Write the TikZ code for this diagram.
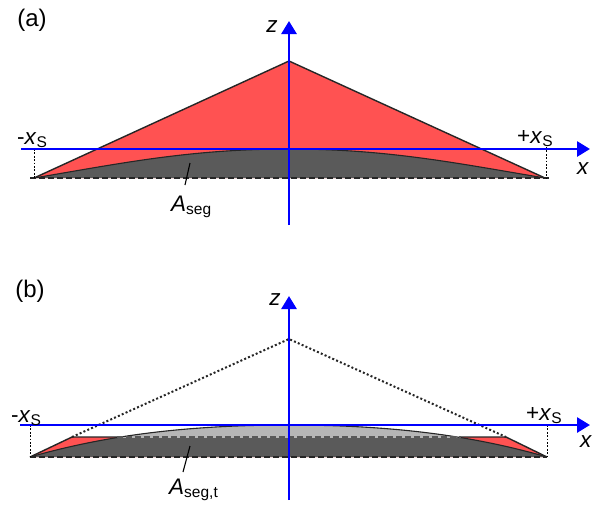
\documentclass[tikz,border=0pt]{standalone}
\usepackage{fontspec}
\setmainfont{Liberation Sans}
\usetikzlibrary{arrows.meta, positioning, calc}
\definecolor{segred}{RGB}{255,82,82}
\definecolor{seggray}{RGB}{90,90,90}
\definecolor{seglight}{RGB}{182,182,182}
\definecolor{axblue}{RGB}{0,0,255}
\newcommand{\lsub}[1]{\raisebox{-3.5pt}{\fontsize{15.5}{15.5}\selectfont #1}}
\tikzset{
  ax/.style={draw=axblue, line width=2.8pt, -{Triangle[length=13pt,width=15pt]}},
  outl/.style={draw=black!85, line width=1.4pt, line join=round},
  rim/.style={draw=black!85, line width=1.1pt},
  baseln/.style={draw=black!85, line width=1.6pt, dash pattern=on 6pt off 3pt},
  trunc/.style={draw=black!65, line width=1.3pt, dash pattern=on 6pt off 3pt},
  drop/.style={draw=black, line width=1pt, dash pattern=on 1.8pt off 1.6pt},
  dotln/.style={draw=black!85, line width=2pt, dash pattern=on 2pt off 2.2pt},
  leader/.style={draw=black, line width=1.1pt},
  lbl/.style={font=\fontsize{22.5}{26}\selectfont, inner sep=0pt},
  tag/.style={font=\fontsize{24}{28}\selectfont, inner sep=0pt},
}
\begin{document}
\begin{tikzpicture}[x=1pt, y=-1pt]
  \useasboundingbox (0,0) rectangle (601,507);

  % (a)
  \coordinate (aO)   at (289,149);
  \coordinate (aL)   at (34,178);
  \coordinate (aR)   at (545,178);
  \coordinate (aTop) at (289,61);

  \fill[segred] (aL) -- (aTop) -- (aR) -- cycle;
  \fill[seggray] (aL) .. controls (120,163.5) and (190,149) .. (aO)
                      .. controls (388,149) and (458,163.5) .. (aR) -- cycle;
  \draw[rim] (aL) .. controls (120,163.5) and (190,149) .. (aO)
                  .. controls (388,149) and (458,163.5) .. (aR);
  \draw[outl] (aL) -- (aTop) -- (aR);
  \draw[baseln] (30,178) -- (550,178);
  \draw[drop] (34,149) -- (aL);
  \draw[drop] (546,147) -- (546,178);

  \draw[ax] (289,225) -- (289,21);
  \draw[ax] (21,149) -- (590,149);

  \node[tag] (tagA) at (32,20) {(a)};
  \node[lbl] (zA) at (272,27) {\textit{z}};
  \node[lbl] (xA) at (583,169) {\textit{x}};
  \node[lbl, anchor=base west] (mxA) at (17,144) {-\textit{x}\lsub{S}};
  \node[lbl, anchor=base west] (pxA) at (517,143) {+\textit{x}\lsub{S}};
  \node[lbl, anchor=base west] (segA) at (171,211) {\textit{A}\lsub{seg}};
  \coordinate (pA) at (190,163);
  \coordinate (qA) at (185,185);
  \draw[leader] (pA) -- (qA);

  % (b)
  \coordinate (bO)   at (289,425);
  \coordinate (bL)   at (30,457);
  \coordinate (bR)   at (547,457);
  \coordinate (bTL)  at (72,437);
  \coordinate (bTR)  at (506,437);
  \coordinate (bTop) at (289,339);
  \coordinate (bCL)  at (117,437);
  \coordinate (bCR)  at (461,437);

  \fill[segred] (bL) -- (bTL) -- (bTR) -- (bR) -- cycle;
  \fill[seggray] (bL) .. controls (100,437) and (180,425) .. (bO)
                      .. controls (398,425) and (478,437) .. (bR) -- cycle;
  \begin{scope}
    \clip (0,437) rectangle (601,400);
    \fill[seglight] (bL) .. controls (100,437) and (180,425) .. (bO)
                         .. controls (398,425) and (478,437) .. (bR) -- cycle;
  \end{scope}
  \draw[rim] (bL) .. controls (100,437) and (180,425) .. (bO)
                  .. controls (398,425) and (478,437) .. (bR);
  \draw[outl] (bL) -- (bTL) -- (bCL);
  \draw[outl] (bR) -- (bTR) -- (bCR);
  \draw[trunc] (bCL) -- (bCR);
  \draw[dotln] (bTL) -- (bTop) -- (bTR);
  \draw[baseln] (bL) -- (bR);
  \draw[drop] (30,425) -- (bL);
  \draw[drop] (bR |- bO) -- (bR);

  \draw[ax] (289,500) -- (289,296);
  \draw[ax] (20,425) -- (590,425);

  \node[tag] (tagB) at (30,291) {(b)};
  \node[lbl] (zB) at (275,300) {\textit{z}};
  \node[lbl] (xB) at (586,442) {\textit{x}};
  \node[lbl, anchor=base west] (mxB) at (11,422) {-\textit{x}\lsub{S}};
  \node[lbl, anchor=base west] (pxB) at (526,420) {+\textit{x}\lsub{S}};
  \node[lbl, anchor=base west] (segB) at (169,494) {\textit{A}\lsub{seg,t}};
  \coordinate (pB) at (190,446);
  \coordinate (qB) at (183,472);
  \draw[leader] (pB) -- (qB);
\end{tikzpicture}
\end{document}
